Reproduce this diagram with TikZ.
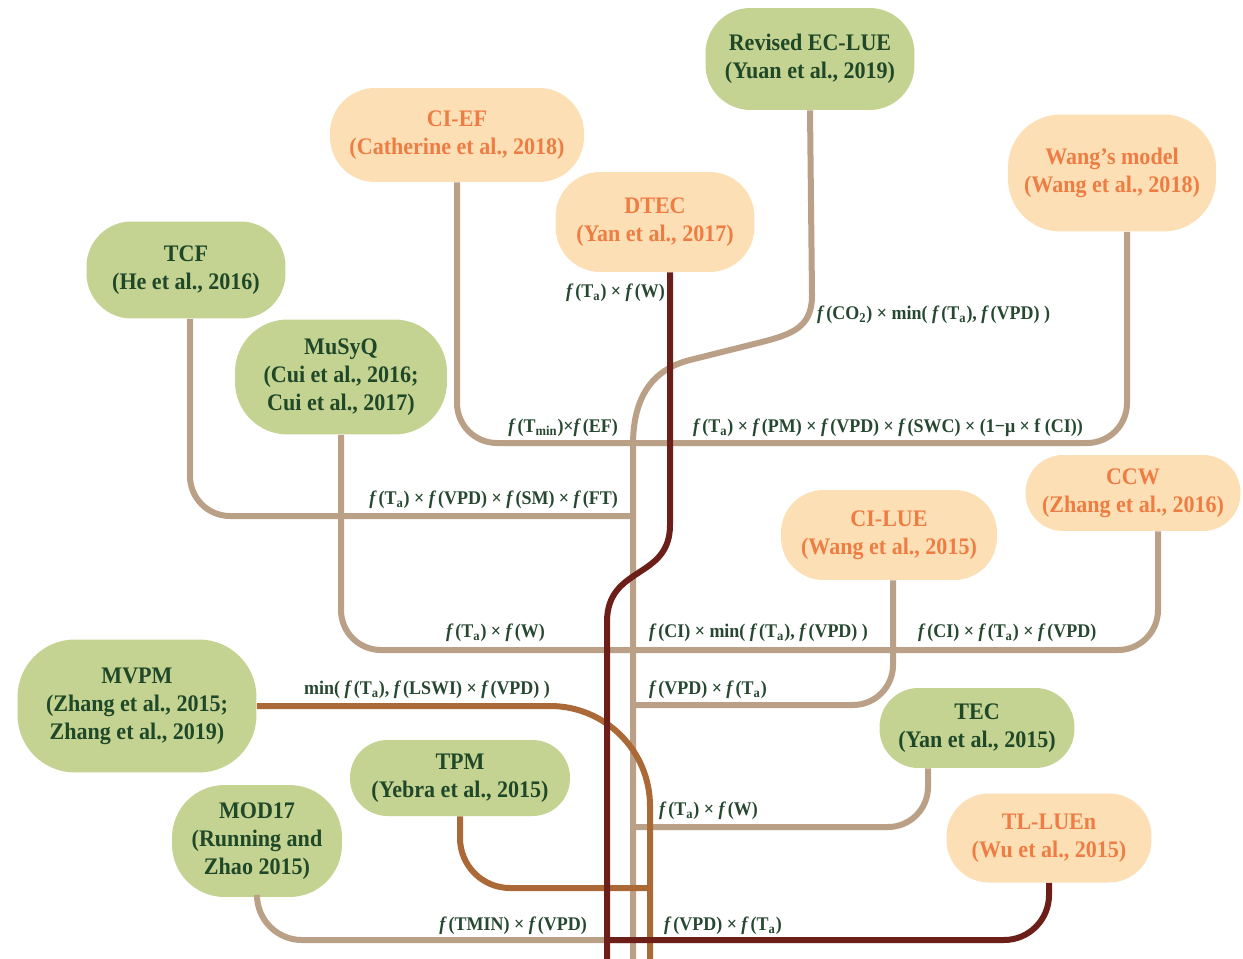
\documentclass[tikz,border=0pt]{standalone}
\usepackage{fontspec}
\setmainfont{Liberation Serif}[FakeStretch=0.93]
\usepackage{xcolor}
\usetikzlibrary{positioning}
\definecolor{nodegreen}{RGB}{197,211,146}
\definecolor{nodeorange}{RGB}{253,223,182}
\definecolor{textgreen}{RGB}{30,72,40}
\definecolor{textorange}{RGB}{238,125,67}
\definecolor{formulagreen}{RGB}{38,72,48}
\definecolor{linetan}{RGB}{185,160,135}
\definecolor{linered}{RGB}{108,30,25}
\definecolor{linebrown}{RGB}{170,105,55}
\newcommand{\fof}[1]{\textit{f}\kern1pt(#1)}
\tikzstyle{greenbox} = [fill=nodegreen, text=textgreen,
rounded corners=0.9cm, align=center,
font=\bfseries\fontsize{13.5}{16}\selectfont, inner sep=2pt]
\tikzstyle{orangebox} = [fill=nodeorange, text=textorange,
rounded corners=0.9cm, align=center,
font=\bfseries\fontsize{13.5}{16}\selectfont, inner sep=2pt]

\begin{document}
\begin{tikzpicture}[
        x=0.02cm, y=-0.02cm,
        tanline/.style={draw=linetan, line width=0.12cm, rounded corners=0.8cm},
        redline/.style={draw=linered, line width=0.12cm},
        brownline/.style={draw=linebrown, line width=0.12cm},
        formula/.style={font=\bfseries\fontsize{11}{13}\selectfont, text=formulagreen, inner sep=1pt},
    ]
        \useasboundingbox (0,0) rectangle (1243,959);
        \fill[white] (0,0) rectangle (1243,959);

        % models
        \node[greenbox, minimum width=4.18cm, minimum height=2.04cm] (ecl) at (810,59) {Revised EC-LUE\\(Yuan et al., 2019)};
        \node[orangebox, minimum width=5.08cm, minimum height=1.88cm] (cief) at (457,135) {CI-EF\\(Catherine et al., 2018)};
        \node[orangebox, minimum width=3.98cm, minimum height=2cm] (dtec) at (655,222) {DTEC\\(Yan et al., 2017)};
        \node[orangebox, minimum width=4.16cm, minimum height=2.34cm, rounded corners=1.05cm] (wang) at (1112,173) {Wang’s model\\(Wang et al., 2018)};
        \node[greenbox, minimum width=3.98cm, minimum height=1.94cm] (tcf) at (186,270) {TCF\\(He et al., 2016)};
        \node[greenbox, minimum width=4.24cm, minimum height=2.3cm, rounded corners=1.05cm] (musyq) at (341,377) {MuSyQ\\(Cui et al., 2016;\\Cui et al., 2017)};
        \node[orangebox, minimum width=4.3cm, minimum height=1.52cm, rounded corners=0.75cm] (ccw) at (1133,493) {CCW\\(Zhang et al., 2016)};
        \node[orangebox, minimum width=4.32cm, minimum height=1.8cm, rounded corners=0.85cm] (cilue) at (889,535) {CI-LUE\\(Wang et al., 2015)};
        \node[greenbox, minimum width=4.78cm, minimum height=2.66cm, rounded corners=1.15cm] (mvpm) at (137,706) {MVPM\\(Zhang et al., 2015;\\Zhang et al., 2019)};
        \node[greenbox, minimum width=3.9cm, minimum height=1.6cm, rounded corners=0.78cm] (tec) at (977,728) {TEC\\(Yan et al., 2015)};
        \node[greenbox, minimum width=4.4cm, minimum height=1.52cm, rounded corners=0.75cm] (tpm) at (460,778) {TPM\\(Yebra et al., 2015)};
        \node[greenbox, minimum width=3.4cm, minimum height=2.24cm, rounded corners=1.05cm] (mod17) at (257,841) {MOD17\\(Running and\\Zhao 2015)};
        \node[orangebox, minimum width=4.1cm, minimum height=1.78cm, rounded corners=0.85cm] (tluen) at (1049,838) {TL-LUEn\\(Wu et al., 2015)};

        % junctions on the trunks
        \coordinate (jef) at (633,443);
        \coordinate (jtcf) at (633,516);
        \coordinate (jmu) at (633,650);
        \coordinate (jci) at (633,705);
        \coordinate (jtec) at (633,827);
        \coordinate (jmod) at (633,940);
        \coordinate (trunkend) at (633,959);
        \coordinate (jtpm) at (650,888);
        \coordinate (brownend) at (650,959);
        \coordinate (jred) at (607,940);
        \coordinate (redend) at (607,959);

        % tan branches
        \draw[tanline, rounded corners=0] (ecl.south) -- (812,295) .. controls (812,330) and (790,335) .. (750,345) -- (690,360) .. controls (650,370) and (633,400) .. (633,445) -- (trunkend);
        \draw[tanline] (cief.south) |- (jef) -| ([xshift=0.3cm]wang.south);
        \draw[tanline] ([xshift=0.08cm]tcf.south) |- (jtcf);
        \draw[tanline] (musyq.south) |- (jmu) -| ([xshift=0.5cm]ccw.south);
        \draw[tanline] ([xshift=0.08cm]cilue.south) |- (jci);
        \draw[tanline] ([xshift=-0.98cm]tec.south) |- (jtec);
        \draw[tanline, rounded corners=0.9cm] (mod17.south) |- (jmod);

        % brown branches
        \draw[brownline, rounded corners=1cm] (tpm.south) |- (jtpm);
        \draw[brownline, rounded corners=2cm] (mvpm.east) -| (brownend);

        % red branches
        \draw[redline] ([xshift=0.3cm]dtec.south) -- (670,525) .. controls (670,580) and (607,565) .. (607,622) -- (redend);
        \draw[redline, rounded corners=0.9cm] (tluen.south) |- (jred);

        % formulas
        \node[formula, anchor=east] (fdtec) at (667,293) {\fof{T\textsubscript{a}} × \fof{W}};
        \node[formula, anchor=west] (fecl) at (815,315) {\fof{CO\textsubscript{2}} × min( \fof{T\textsubscript{a}}, \fof{VPD} )};
        \node[formula, anchor=east] (fcief) at (620,428) {\fof{T\textsubscript{min}}×\fof{EF}};
        \node[formula, anchor=west] (fwang) at (691,428) {\fof{T\textsubscript{a}} × \fof{PM} × \fof{VPD} × \fof{SWC} × (1−μ × f (CI))};
        \node[formula, anchor=east] (ftcf) at (620,500) {\fof{T\textsubscript{a}} × \fof{VPD} × \fof{SM} × \fof{FT}};
        \node[formula, anchor=east] (fmusyq) at (547,633) {\fof{T\textsubscript{a}} × \fof{W}};
        \node[formula, anchor=west] (fcilue) at (647,633) {\fof{CI} × min( \fof{T\textsubscript{a}}, \fof{VPD} )};
        \node[formula, anchor=west] (fccw) at (916,633) {\fof{CI} × \fof{T\textsubscript{a}} × \fof{VPD}};
        \node[formula, anchor=west] (fcilue2) at (647,690) {\fof{VPD} × \fof{T\textsubscript{a}}};
        \node[formula, anchor=west] (fmvpm) at (302,690) {min( \fof{T\textsubscript{a}}, \fof{LSWI} × \fof{VPD} )};
        \node[formula, anchor=west] (ftec) at (657,811) {\fof{T\textsubscript{a}} × \fof{W}};
        \node[formula, anchor=east] (fmod) at (589,926) {\fof{TMIN} × \fof{VPD}};
        \node[formula, anchor=west] (ftluen) at (662,926) {\fof{VPD} × \fof{T\textsubscript{a}}};
    \end{tikzpicture}
\end{document}
